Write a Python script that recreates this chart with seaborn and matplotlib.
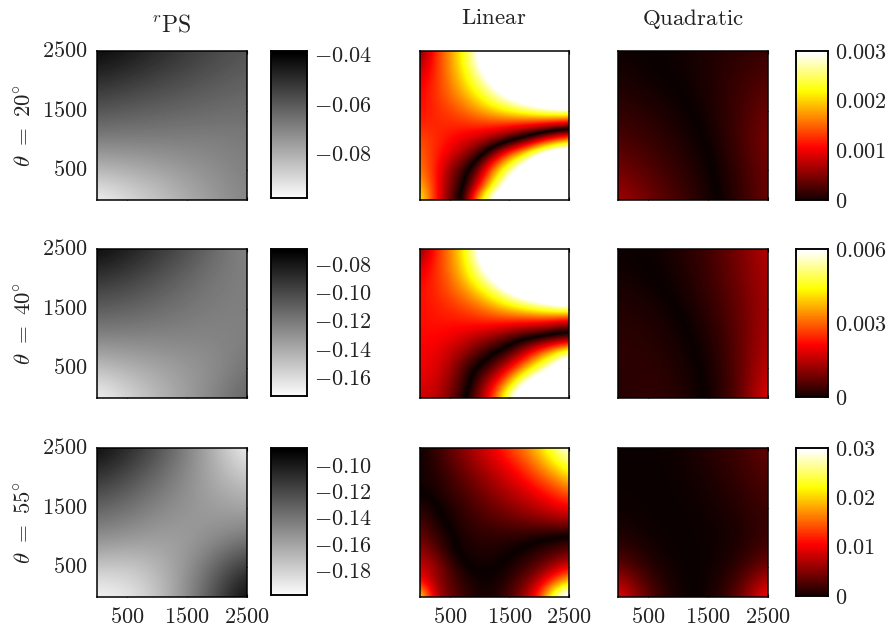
import numpy as np
import matplotlib
matplotlib.use("Agg")
import matplotlib.pyplot as plt
from matplotlib.colors import ListedColormap, Normalize
import seaborn as sns

# r_PS panels, rows run from y=2500 down to y=0, columns from x=0 to x=2500
RPS_20 = [[-.0397,-.0433,-.0475,-.0516,-.0552,-.0582],
          [-.0492,-.0516,-.0546,-.0570,-.0594,-.0612],
          [-.0582,-.0600,-.0612,-.0624,-.0636,-.0642],
          [-.0684,-.0684,-.0684,-.0684,-.0684,-.0672],
          [-.0815,-.0797,-.0773,-.0743,-.0713,-.0684],
          [-.0965,-.0904,-.0851,-.0791,-.0743,-.0695]]
RPS_40 = [[-.0715,-.0798,-.0902,-.1006,-.1131,-.1235],
          [-.0902,-.0954,-.1027,-.1110,-.1183,-.1214],
          [-.1068,-.1089,-.1131,-.1172,-.1204,-.1214],
          [-.1235,-.1235,-.1235,-.1235,-.1235,-.1214],
          [-.1474,-.1422,-.1370,-.1318,-.1266,-.1162],
          [-.1710,-.1578,-.1453,-.1339,-.1214,-.1089]]
RPS_55 = [[-.0904,-.1038,-.1206,-.1430,-.1676,-.1950],
          [-.1094,-.1206,-.1340,-.1486,-.1632,-.1744],
          [-.1296,-.1363,-.1452,-.1520,-.1564,-.1598],
          [-.1486,-.1520,-.1564,-.1564,-.1486,-.1408],
          [-.1744,-.1766,-.1676,-.1520,-.1296,-.1094],
          [-.1970,-.1900,-.1744,-.1486,-.1184,-.0885]]

# Linear and quadratic panels: signed values as fractions of the colour maximum
LIN_20 = [[.15,.42,.58,.78,1.05,1.3,1.5,1.7,1.9,2.1,2.3],
          [.25,.42,.58,.76,1.0,1.25,1.45,1.65,1.85,2.0,2.2],
          [.33,.43,.55,.7,.88,1.08,1.3,1.5,1.65,1.8,2.0],
          [.36,.43,.52,.62,.75,.9,1.05,1.2,1.35,1.5,1.6],
          [.38,.42,.46,.52,.6,.68,.76,.83,.9,.95,.98],
          [.42,.42,.42,.42,.43,.42,.4,.36,.32,.26,.2],
          [.48,.43,.38,.32,.26,.18,.05,-.1,-.3,-.5,-.65],
          [.52,.42,.32,.2,.05,-.25,-.55,-.8,-1.1,-1.3,-1.35],
          [.55,.42,.2,.06,-.2,-.6,-.9,-1.15,-1.35,-1.5,-1.6],
          [.65,.42,.18,.0,-.35,-.8,-1.1,-1.4,-1.6,-1.7,-1.8],
          [.78,.42,.14,-.06,-.75,-1.1,-1.4,-1.7,-1.9,-2.0,-2.1]]
LIN_40 = [[.15,.40,.55,.75,1.05,1.4,1.7,1.9,2.1,2.3,2.5],
          [.28,.42,.55,.72,.98,1.25,1.5,1.7,1.9,2.1,2.3],
          [.35,.42,.52,.66,.85,1.05,1.3,1.5,1.7,1.85,2.0],
          [.38,.42,.48,.56,.68,.82,.98,1.15,1.3,1.4,1.5],
          [.38,.4,.43,.47,.52,.6,.68,.75,.82,.9,.95],
          [.38,.39,.39,.39,.4,.4,.38,.36,.34,.28,.2],
          [.37,.37,.34,.3,.24,.18,.1,.02,-.03,-.08,-.12],
          [.36,.34,.28,.2,.1,.0,-.1,-.28,-.5,-.72,-.95],
          [.35,.32,.24,.09,-.03,-.15,-.35,-.6,-.85,-1.05,-1.3],
          [.33,.3,.2,.06,-.12,-.35,-.65,-1.0,-1.2,-1.4,-1.6],
          [.28,.28,.17,.02,-.2,-.5,-.95,-1.3,-1.6,-1.8,-2.0]]
LIN_55 = [[.01,.06,.13,.2,.28,.36,.45,.55,.68,.85,1.02],
          [.01,.05,.11,.17,.24,.3,.38,.47,.58,.72,.85],
          [.02,.03,.08,.13,.19,.25,.31,.38,.47,.56,.68],
          [.002,.02,.06,.1,.15,.2,.25,.3,.36,.43,.5],
          [-.05,-.01,.03,.07,.11,.15,.19,.23,.27,.32,.36],
          [-.1,-.03,.01,.05,.08,.1,.12,.14,.16,.18,.2],
          [-.15,-.08,-.01,.03,.05,.05,.05,.04,.015,.0,-.03],
          [-.22,-.14,-.02,.02,.03,.03,.005,-.02,-.06,-.1,-.14],
          [-.3,-.22,-.1,.0,.01,.005,-.02,-.07,-.14,-.24,-.34],
          [-.4,-.22,-.12,-.05,-.01,-.01,-.06,-.15,-.28,-.5,-.7],
          [-.8,-.28,-.15,-.07,-.02,-.03,-.1,-.22,-.45,-.9,-1.2]]
QUAD_20 = [[.01,.0,-.01,-.03,-.05,-.07],
           [.03,.01,-.005,-.03,-.07,-.11],
           [.06,.04,.015,-.02,-.08,-.15],
           [.10,.07,.035,-.005,-.08,-.18],
           [.16,.11,.06,.015,-.06,-.16],
           [.24,.16,.09,.025,-.05,-.15]]
QUAD_40 = [[.005,-.005,-.03,-.08,-.16,-.27],
           [.02,.005,-.02,-.07,-.15,-.25],
           [.04,.03,.0,-.05,-.13,-.24],
           [.05,.045,.02,-.025,-.12,-.26],
           [.045,.055,.035,-.01,-.11,-.29],
           [.04,.06,.045,.0,-.1,-.36]]
QUAD_55 = [[.0,.0,-.01,-.04,-.08,-.14],
           [.0,.0,-.005,-.025,-.06,-.11],
           [.01,.002,-.002,-.01,-.04,-.08],
           [.03,.01,.0,-.005,-.02,-.07],
           [.14,.035,.002,-.003,-.04,-.16],
           [.40,.12,.008,-.005,-.12,-.44]]

ROW_NAMES = [r"$\theta\ =\ 20^{\circ}$", r"$\theta\ =\ 40^{\circ}$", r"$\theta\ =\ 55^{\circ}$"]
COL_NAMES = [r"${}^{r}\mathrm{PS}$", r"$\mathrm{Linear}$", r"$\mathrm{Quadratic}$"]
AXIS_TICKS = [500, 1500, 2500]
RPS_RANGE = [(-.0982, -.0385), (-.1733, -.0694), (-.199, -.087)]
RPS_TICKS = [[-.04, -.06, -.08], [-.08, -.10, -.12, -.14, -.16], [-.10, -.12, -.14, -.16, -.18]]
HOT_MAX = [.003, .006, .03]
HOT_TICKS = [[0, .001, .002, .003], [0, .003, .006], [0, .01, .02, .03]]

sns.set_theme(style="white")
plt.rcParams.update({"mathtext.fontset": "cm", "font.family": ["cmr10", "DejaVu Serif"],
                     "axes.formatter.use_mathtext": True, "axes.linewidth": 1.1,
                     "axes.edgecolor": "black", "text.color": "#222222",
                     "xtick.color": "black", "ytick.color": "black",
                     "xtick.labelcolor": "#222222", "ytick.labelcolor": "#222222"})

W, H = 891, 630
fig = plt.figure(figsize=(W / 100, H / 100), dpi=100, facecolor="white")


def box(x0, y0, x1, y1):
    return fig.add_axes([x0 / W, 1 - y1 / H, (x1 - x0) / W, (y1 - y0) / H])


hot_base = plt.get_cmap("hot")
mirror_hot = ListedColormap(np.vstack([hot_base(np.linspace(1, 0, 256)), hot_base(np.linspace(0, 1, 256))]))
TOPS = [(51, 200), (249, 398), (448, 597)]


def panel(ax, grid, cbar_ax, cmap, vmin, vmax, signed, left, bottom):
    grid = np.asarray(grid, float)
    n = grid.shape[0]
    sns.heatmap(np.abs(grid) if signed else grid, ax=ax, cmap="hot" if signed else cmap,
                vmin=vmin, vmax=vmax, cbar=cbar_ax is not None, cbar_ax=cbar_ax,
                xticklabels=False, yticklabels=False)
    show_cmap = mirror_hot if signed else cmap
    norm = Normalize(-vmax, vmax) if signed else Normalize(vmin, vmax)
    ax.imshow(grid, extent=(0, n, n, 0), cmap=show_cmap, norm=norm, aspect="auto",
              interpolation="bicubic", interpolation_stage="data", zorder=3)
    ax.set_xlim(.5, n - .5)
    ax.set_ylim(n - .5, .5)
    pos = [.5 + v / 2500 * (n - 1) for v in AXIS_TICKS]
    ax.set_xticks(pos)
    ax.set_yticks([n - p for p in pos])
    ax.set_xticklabels([f"${v}$" for v in AXIS_TICKS] if bottom else [], fontsize=16, rotation=0)
    ax.set_yticklabels([f"${v}$" for v in AXIS_TICKS] if left else [], fontsize=16, rotation=0, va="center")
    ax.tick_params(direction="in", length=2, width=.8, top=True, right=True, pad=7, bottom=True, left=True)
    for s in ax.spines.values():
        s.set_visible(True)
        s.set_linewidth(1.1)
        s.set_zorder(5)


def finish_cbar(cax, ticks, labels, pad):
    cax.set_yticks(ticks)
    cax.set_yticklabels(labels, fontsize=16)
    cax.tick_params(direction="in", length=2, width=.6, pad=pad, right=True, left=True)
    for s in cax.spines.values():
        s.set_visible(True)
        s.set_linewidth(1.1)
    for c in cax.collections:
        c.set_edgecolor("face")


rps = [RPS_20, RPS_40, RPS_55]
lin = [LIN_20, LIN_40, LIN_55]
quad = [QUAD_20, QUAD_40, QUAD_55]
for r, (t, b) in enumerate(TOPS):
    bottom = r == 2
    a = box(97, t, 247, b)
    c = box(271, t, 307, b - 2)
    lo, hi = RPS_RANGE[r]
    panel(a, rps[r], c, "gray_r", lo, hi, False, True, bottom)
    finish_cbar(c, RPS_TICKS[r], [f"$-{abs(v):.2f}$" for v in RPS_TICKS[r]], 5)
    fig.text(25 / W, 1 - (t + b) / 2 / H, ROW_NAMES[r], rotation=90, fontsize=16.5, ha="center", va="center")

    m = HOT_MAX[r]
    a = box(420, t, 569, b)
    panel(a, np.asarray(lin[r]) * m, None, None, 0, m, True, False, bottom)
    a = box(618, t, 768, b)
    c = box(796, t, 828, b - 1 if r else b)
    panel(a, np.asarray(quad[r]) * m, c, None, 0, m, True, False, bottom)
    labs = [("0" if v == 0 else (f"{v:.2f}" if m == .03 else f"{v:.3f}")) for v in HOT_TICKS[r]]
    finish_cbar(c, HOT_TICKS[r], [f"${s}$" for s in labs], 5)

fig.text(171 / W, 1 - 25 / H, COL_NAMES[0], fontsize=17, ha="center", va="center")
fig.text(494 / W, 1 - 18 / H, COL_NAMES[1], fontsize=16.5, ha="center", va="center")
fig.text(693 / W, 1 - 19 / H, COL_NAMES[2], fontsize=16.5, ha="center", va="center")
fig.savefig("out.png", dpi=100, facecolor="white")
